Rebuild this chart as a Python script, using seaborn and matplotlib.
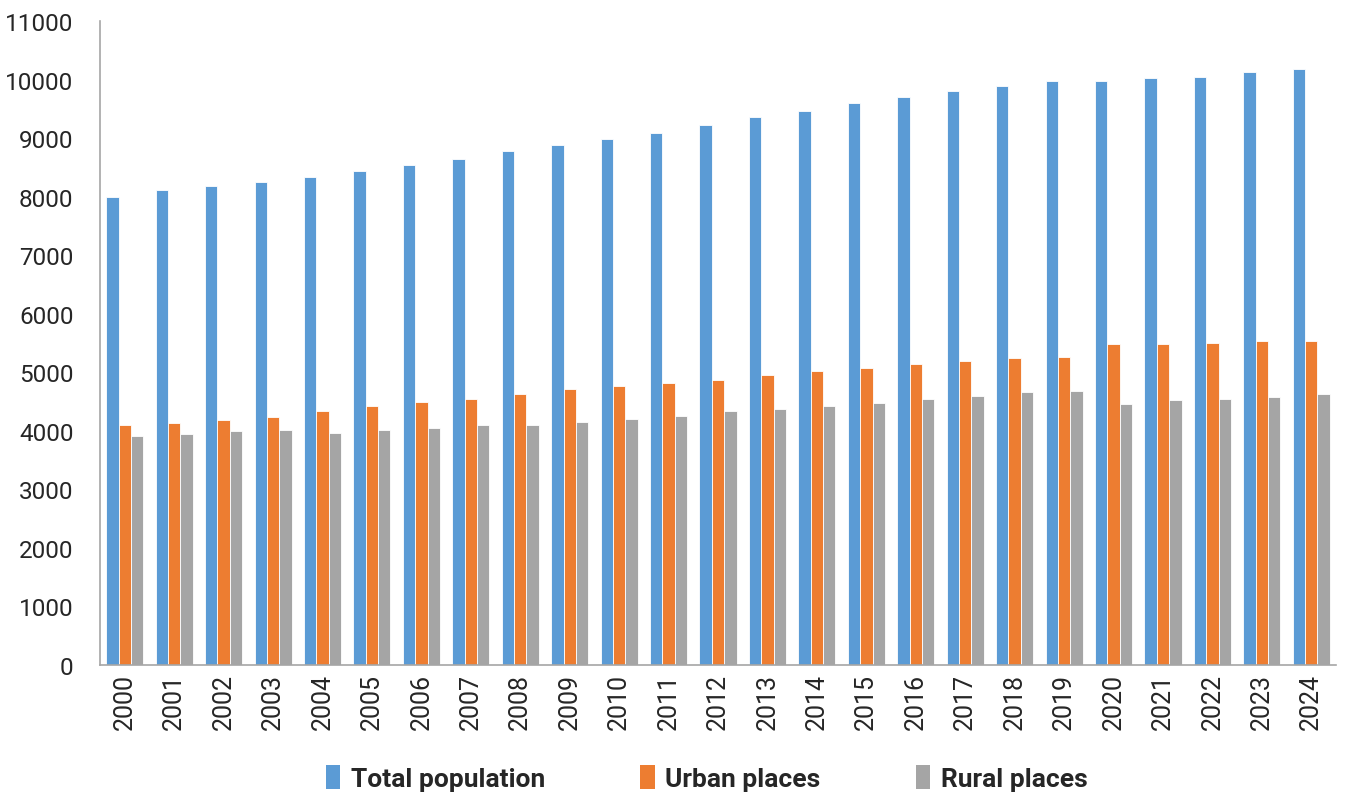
import matplotlib
matplotlib.use("Agg")
import matplotlib.pyplot as plt
from matplotlib import font_manager
from matplotlib.patches import Patch
import pandas as pd
import seaborn as sns

years = [str(y) for y in range(2000, 2025)]
total_population = [8000, 8120, 8175, 8250, 8330, 8430, 8540, 8645, 8780, 8885,
                    8990, 9095, 9230, 9365, 9465, 9600, 9705, 9805, 9890, 9970,
                    9970, 10020, 10050, 10130, 10180]
urban_places = [4095, 4130, 4180, 4230, 4340, 4420, 4490, 4550, 4630, 4715,
                4765, 4815, 4865, 4945, 5025, 5075, 5135, 5185, 5240, 5260,
                5480, 5480, 5500, 5530, 5530]
rural_places = [3915, 3940, 4000, 4020, 3970, 4020, 4050, 4100, 4100, 4150,
                4210, 4260, 4340, 4365, 4420, 4475, 4550, 4600, 4655, 4685,
                4465, 4525, 4550, 4575, 4630]
series_names = ["Total population", "Urban places", "Rural places"]
colors = ["#5B9BD5", "#ED7D31", "#A5A5A5"]

df = pd.DataFrame({
    "year": years * 3,
    "value": total_population + urban_places + rural_places,
    "series": [s for s in series_names for _ in years],
})

sns.set_theme(style="white")
installed = {f.name for f in font_manager.fontManager.ttflist}
family = "Liberation Sans Narrow" if "Liberation Sans Narrow" in installed else "Roboto"
plt.rcParams["font.family"] = [family, "DejaVu Sans"]

fig = plt.figure(figsize=(13.46, 8.03), dpi=100)
ax = fig.add_axes([0.0743, 0.1706, 0.9183, 0.802])

sns.barplot(data=df, x="year", y="value", hue="series", palette=colors,
            width=0.75, saturation=1, edgecolor="#ffffff", linewidth=0.6,
            ax=ax, legend=False)

ax.set_ylim(0, 11000)
ax.set_yticks(range(0, 11001, 1000))
ax.set_xlim(-0.5, len(years) - 0.5)
ax.set_xlabel("")
ax.set_ylabel("")
ax.tick_params(axis="y", labelsize=17.5, length=0, pad=19, colors="#262626")
ax.tick_params(axis="x", labelsize=18, length=0, pad=6, colors="#262626",
               labelrotation=90)

for side in ["top", "right"]:
    ax.spines[side].set_visible(False)
for side in ["left", "bottom"]:
    ax.spines[side].set_color("#A6A6A6")
    ax.spines[side].set_linewidth(1.2)

handles = [Patch(facecolor=c, edgecolor="none") for c in colors]
fig.legend(handles, series_names, loc="center", bbox_to_anchor=(0.525, 0.03),
           ncol=3, frameon=False, prop={"size": 19, "weight": "bold"},
           handlelength=0.55, handleheight=1.0, handletextpad=0.4,
           columnspacing=3.6)

fig.savefig("out.png", dpi=100)
